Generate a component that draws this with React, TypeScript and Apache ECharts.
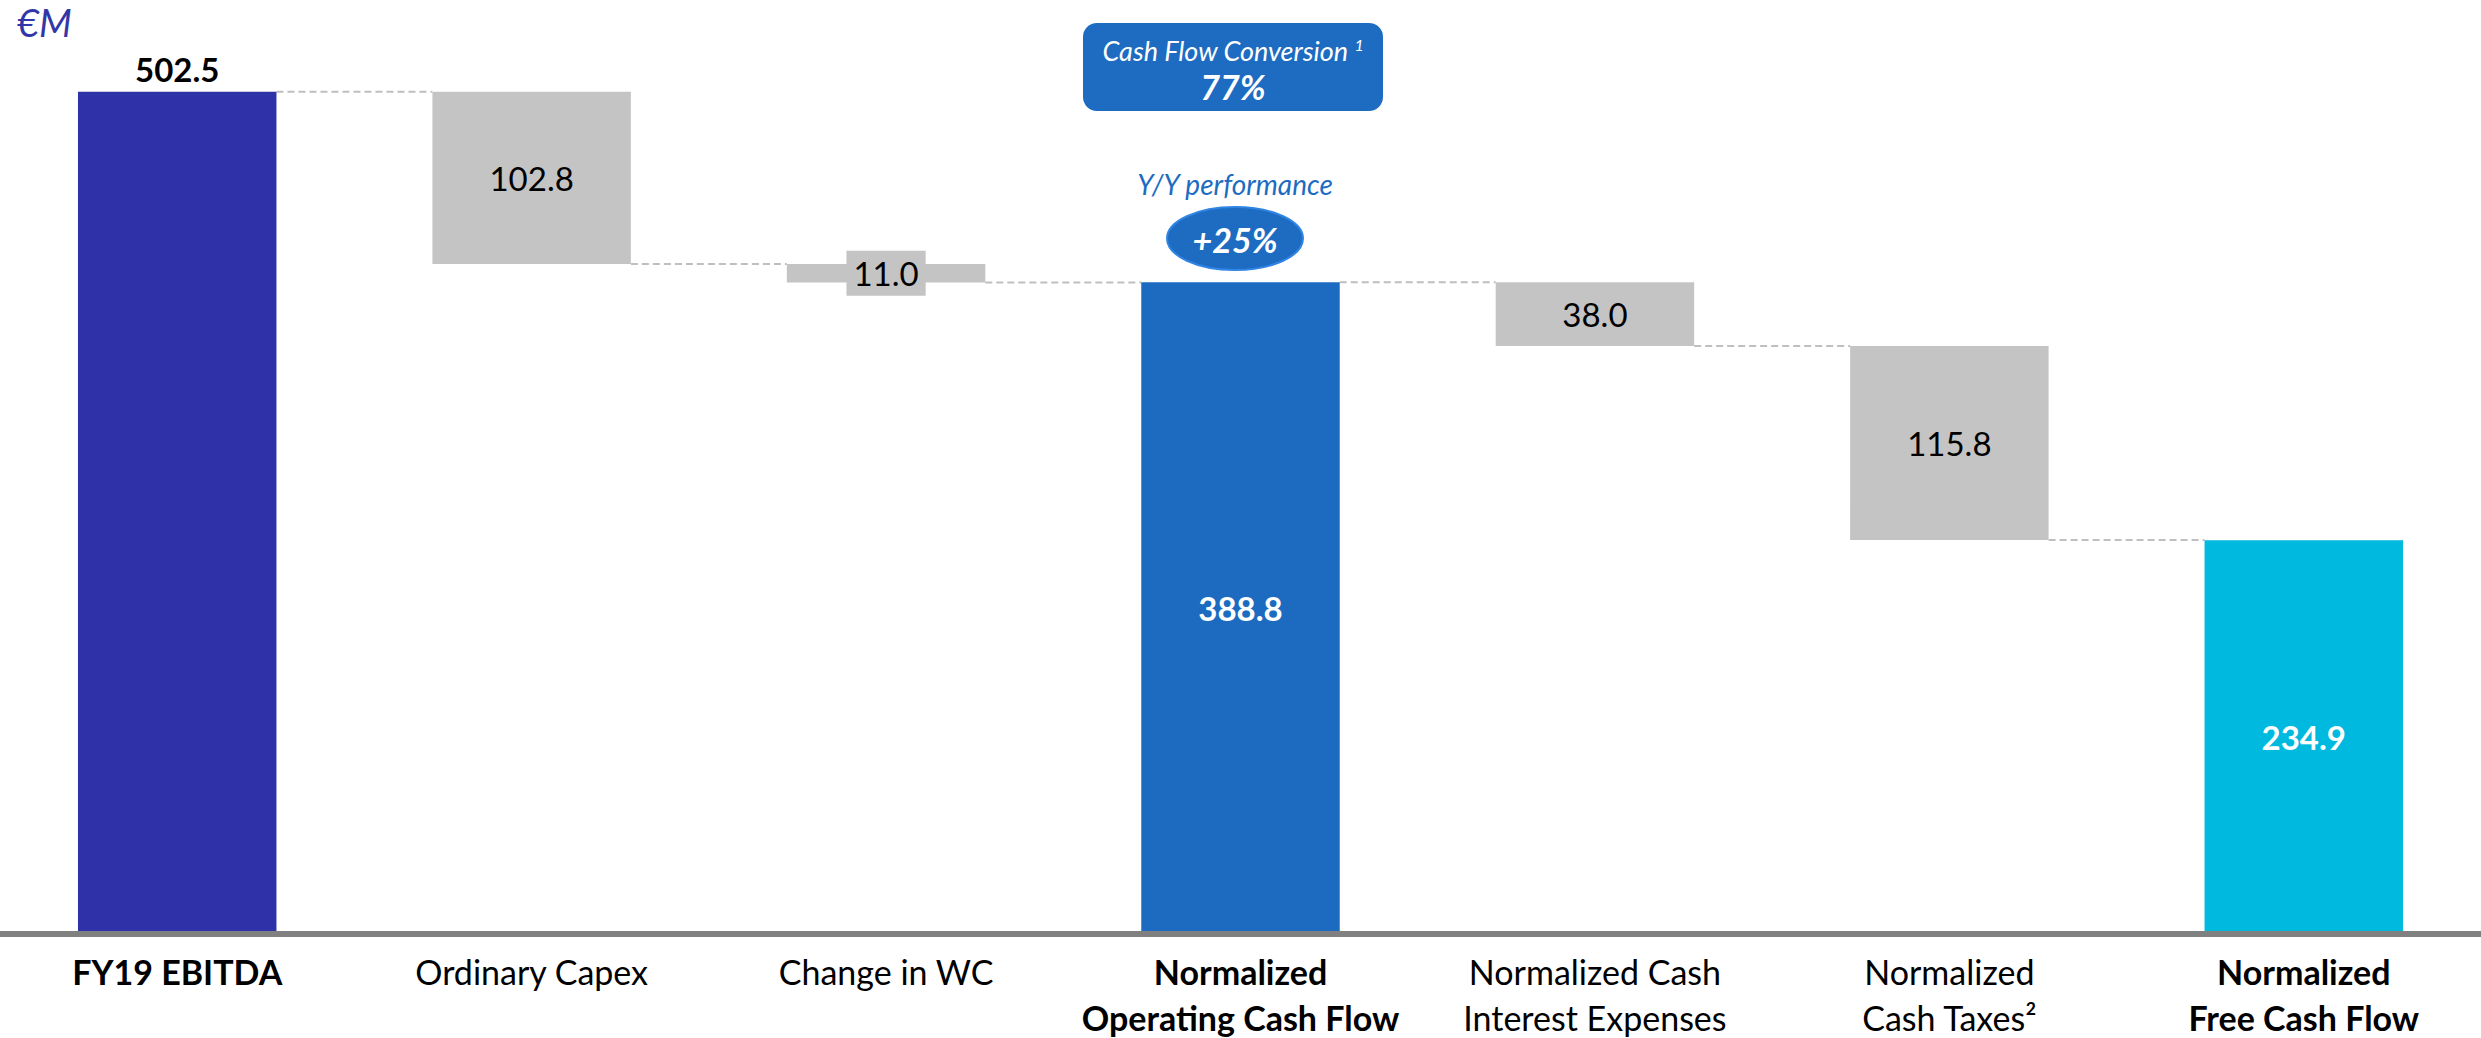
import React, { useEffect, useRef } from "react";
import * as echarts from "echarts";

const categories = [
  "FY19 EBITDA",
  "Ordinary Capex",
  "Change in WC",
  "Normalized\nOperating Cash Flow",
  "Normalized Cash\nInterest Expenses",
  "Normalized\nCash Taxes²",
  "Normalized\nFree Cash Flow",
];
const values = [502.5, 102.8, 11.0, 388.8, 38.0, 115.8, 234.9];
const kinds = ["total", "down", "down", "total", "down", "down", "total"];
const unitLabel = "€M";
const conversionTitle = "Cash Flow Conversion";
const conversionValue = "77%";
const yoyTitle = "Y/Y performance";
const yoyValue = "+25%";

const FONT = "Lato, 'Open Sans', sans-serif";
const barColors = ["#2E31A8", "#C4C4C4", "#C4C4C4", "#1C6BC0", "#C4C4C4", "#C4C4C4", "#00B9DF"];
const BLUE = "#1D6CC1";

export default function App() {
  const ref = useRef<HTMLDivElement>(null);
  useEffect(() => {
    if (!ref.current) return;
    const chart = echarts.init(ref.current, undefined, { renderer: "svg" });

    let running = 0;
    const bases: number[] = [];
    const ends: number[] = [];
    values.forEach((v, i) => {
      if (kinds[i] === "total") {
        running = v;
        bases.push(0);
      } else {
        running = running - v;
        bases.push(running);
      }
      ends.push(running);
    });

    const valueData = values.map((v, i) => {
      const total = kinds[i] === "total";
      const label: any = {
        show: true,
        position: "inside",
        fontFamily: FONT,
        fontSize: 33,
        fontWeight: total ? "bold" : "normal",
        color: total ? "#FFFFFF" : "#000000",
        formatter: () => v.toFixed(1),
      };
      if (i === 0) {
        label.position = "top";
        label.color = "#000000";
        label.distance = 6;
      }
      if (!total && v < 20) {
        label.backgroundColor = "#C4C4C4";
        label.padding = [4, 7];
        label.lineHeight = 37;
      }
      return { value: v, itemStyle: { color: barColors[i] }, label };
    });

    const connectorData = ends.slice(0, -1).map((e, i) => [i, e]);

    const option: any = {
      animation: false,
      grid: { left: 0, right: -4, top: 12, bottom: 104, containLabel: false },
      xAxis: {
        type: "category",
        data: categories,
        offset: 3,
        z: 10,
        axisLine: { show: true, lineStyle: { color: "#808080", width: 6 } },
        axisTick: { show: false },
        splitLine: { show: false },
        axisLabel: {
          interval: 0,
          margin: 11,
          formatter: (val: string, idx: number) => {
            const tag = kinds[idx] === "total" ? "b" : "n";
            return val
              .split("\n")
              .map((l) => `{${tag}|${l}}`)
              .join("\n");
          },
          rich: {
            b: { fontFamily: FONT, fontSize: 34, fontWeight: "bold", color: "#000", lineHeight: 46 },
            n: { fontFamily: FONT, fontSize: 34, fontWeight: "normal", color: "#000", lineHeight: 46 },
          },
        },
      },
      yAxis: {
        type: "value",
        min: 0,
        max: 550,
        show: false,
        splitLine: { show: false },
      },
      series: [
        {
          type: "bar",
          stack: "w",
          data: bases,
          barWidth: "56%",
          itemStyle: { color: "rgba(0,0,0,0)" },
          silent: true,
          label: { show: false },
        },
        {
          type: "bar",
          stack: "w",
          data: valueData,
          barWidth: "56%",
        },
        {
          type: "custom",
          data: connectorData,
          encode: { x: 0, y: 1 },
          z: 1,
          silent: true,
          renderItem: (params: any, api: any) => {
            const idx = api.value(0);
            const lvl = api.value(1);
            const p = api.coord([idx, lvl]);
            const band = api.size([1, 0])[0];
            const bw = band * 0.56;
            return {
              type: "line",
              shape: { x1: p[0] + bw / 2, y1: p[1], x2: p[0] + band - bw / 2, y2: p[1] },
              style: { stroke: "#BFBFBF", lineWidth: 2, lineDash: [7, 4] },
            };
          },
        },
      ],
      graphic: [
        {
          type: "text",
          left: 17,
          top: 3,
          style: {
            text: unitLabel,
            fontFamily: FONT,
            fontStyle: "italic",
            fontSize: 38,
            fill: "#3236A8",
          },
        },
        {
          type: "rect",
          shape: { x: 1083, y: 23, width: 300, height: 88, r: 14 },
          style: { fill: BLUE },
        },
        {
          type: "text",
          x: 1233,
          y: 50,
          style: {
            text: `{a|${conversionTitle} }{s|1}`,
            align: "center",
            verticalAlign: "middle",
            rich: {
              a: { fontFamily: FONT, fontStyle: "italic", fontSize: 27, fill: "#FFFFFF" },
              s: { fontFamily: FONT, fontStyle: "italic", fontSize: 16, fill: "#FFFFFF", verticalAlign: "top", padding: [0, 0, 12, 0] },
            },
          },
        },
        {
          type: "text",
          x: 1233,
          y: 86,
          style: {
            text: conversionValue,
            align: "center",
            verticalAlign: "middle",
            fontFamily: FONT,
            fontStyle: "italic",
            fontWeight: "bold",
            fontSize: 34,
            fill: "#FFFFFF",
          },
        },
        {
          type: "text",
          x: 1235,
          y: 184,
          style: {
            text: yoyTitle,
            align: "center",
            verticalAlign: "middle",
            fontFamily: FONT,
            fontStyle: "italic",
            fontSize: 28,
            fill: BLUE,
          },
        },
        {
          type: "ellipse",
          shape: { cx: 1235, cy: 238.5, rx: 68, ry: 31.5 },
          style: { fill: BLUE, stroke: "#2F84E4", lineWidth: 2 },
        },
        {
          type: "text",
          x: 1235,
          y: 239,
          style: {
            text: yoyValue,
            align: "center",
            verticalAlign: "middle",
            fontFamily: FONT,
            fontStyle: "italic",
            fontWeight: "bold",
            fontSize: 34,
            fill: "#FFFFFF",
          },
        },
      ],
    };
    chart.setOption(option);
    return () => chart.dispose();
  }, []);

  return (
    <div
      ref={ref}
      style={{ position: "absolute", left: 0, top: 0, width: 2481, height: 1038, background: "#FFFFFF" }}
    />
  );
}
